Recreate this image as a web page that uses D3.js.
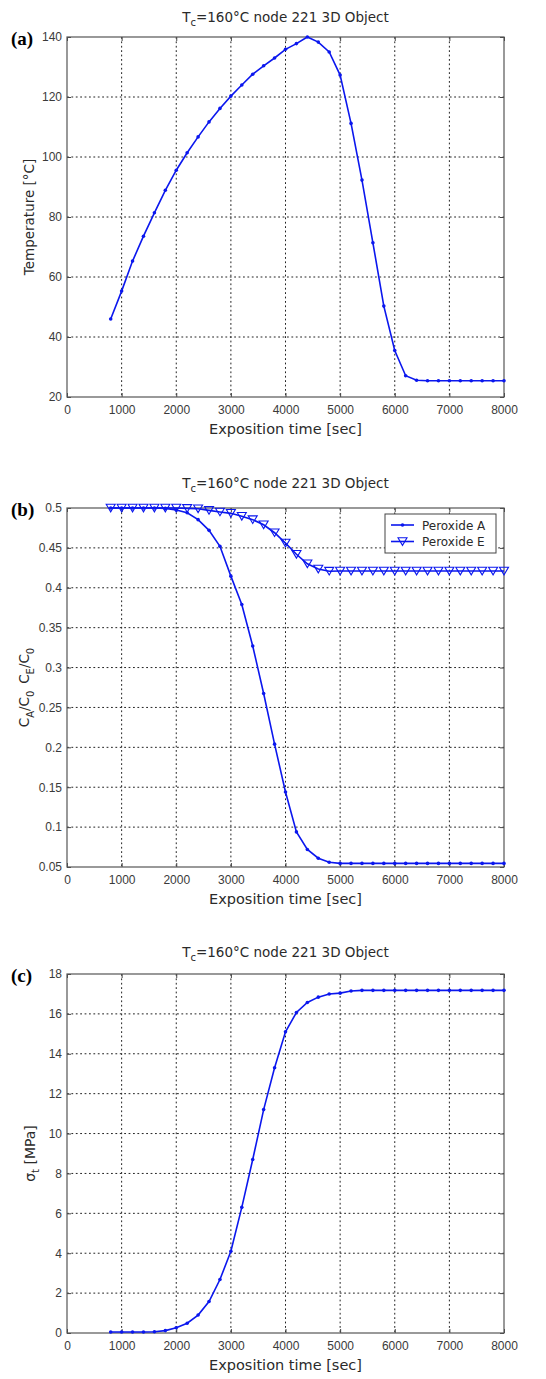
<!DOCTYPE html>
<html>
<head>
<meta charset="utf-8">
<script src="https://cdn.jsdelivr.net/npm/d3@7"></script>
<style>
  body { margin: 0; background: #fff; }
  svg { display: block; }
</style>
</head>
<body>
<div id="chart"></div>
<script>
// Simulation output for node 221, sampled every 200 s
const expositionTime = [
  800, 1000, 1200, 1400, 1600, 1800, 2000, 2200, 2400, 2600, 2800, 3000,
  3200, 3400, 3600, 3800, 4000, 4200, 4400, 4600, 4800, 5000, 5200, 5400,
  5600, 5800, 6000, 6200, 6400, 6600, 6800, 7000, 7200, 7400, 7600, 7800, 8000
];
// (a) temperature [°C]
const temperature = [
  46.0, 55.3, 65.3, 73.6, 81.4, 88.9, 95.6, 101.4, 106.7, 111.7, 116.2, 120.3,
  124.0, 127.6, 130.4, 133.0, 135.9, 137.8, 140.0, 138.3, 135.0, 127.3, 111.2, 92.3,
  71.4, 50.3, 35.5, 27.1, 25.6, 25.4, 25.4, 25.4, 25.4, 25.4, 25.4, 25.4, 25.4
];
// (b) relative peroxide concentrations
const peroxideA = [
  0.5, 0.5, 0.5, 0.5, 0.5, 0.4995, 0.4975, 0.494, 0.4854, 0.472, 0.452, 0.4146,
  0.379, 0.327, 0.2675, 0.204, 0.144, 0.094, 0.072, 0.061, 0.056, 0.0545, 0.0545, 0.0545,
  0.0545, 0.0545, 0.0545, 0.0545, 0.0545, 0.0545, 0.0545, 0.0545, 0.0545, 0.0545, 0.0545, 0.0545, 0.0545
];
const peroxideE = [
  0.5, 0.5, 0.5, 0.5, 0.5, 0.5, 0.5, 0.4995, 0.499, 0.497, 0.495, 0.4933,
  0.4896, 0.4854, 0.479, 0.469, 0.456, 0.442, 0.430, 0.4235, 0.4208, 0.421, 0.421, 0.421,
  0.421, 0.421, 0.421, 0.421, 0.421, 0.421, 0.421, 0.421, 0.421, 0.421, 0.421, 0.421, 0.421
];
// (c) tensile stress [MPa]
const tensileStress = [
  0.05, 0.05, 0.05, 0.05, 0.06, 0.12, 0.26, 0.49, 0.9, 1.58, 2.68, 4.1,
  6.3, 8.7, 11.2, 13.3, 15.1, 16.07, 16.57, 16.84, 17.0, 17.04, 17.15, 17.18,
  17.18, 17.18, 17.18, 17.18, 17.18, 17.18, 17.18, 17.18, 17.18, 17.18, 17.18, 17.18, 17.18
];

const timeTicks = [0, 1000, 2000, 3000, 4000, 5000, 6000, 7000, 8000];
const temperatureTicks = [20, 40, 60, 80, 100, 120, 140];
const concentrationTicks = [0.05, 0.1, 0.15, 0.2, 0.25, 0.3, 0.35, 0.4, 0.45, 0.5];
const stressTicks = [0, 2, 4, 6, 8, 10, 12, 14, 16, 18];
const panelLabels = ["(a)", "(b)", "(c)"];
const legendLabels = ["Peroxide A", "Peroxide E"];
const xAxisLabel = "Exposition time [sec]";

const W = 546, H = 1379;
const plotLeft = 67, plotRight = 504;
const blue = "#0b17ee";
const sans = "'Liberation Sans', Arial, sans-serif";
const wide = "'DejaVu Sans', sans-serif";

const svg = d3.select("#chart").append("svg")
  .attr("width", W).attr("height", H)
  .attr("viewBox", `0 0 ${W} ${H}`);

const x = d3.scaleLinear().domain([0, 8000]).range([plotLeft, plotRight]);

const panels = [
  { top: 37, bottom: 397, titleY: 22, ticks: temperatureTicks, domain: [20, 140],
    fmt: d3.format("d") },
  { top: 508, bottom: 867, titleY: 488, ticks: concentrationTicks, domain: [0.05, 0.5],
    fmt: d3.format("~g") },
  { top: 974, bottom: 1333, titleY: 957, ticks: stressTicks, domain: [0, 18],
    fmt: d3.format("d") }
];

function drawFrame(p, i) {
  const y = d3.scaleLinear().domain(p.domain).range([p.bottom, p.top]);
  const g = svg.append("g");

  // dotted grid
  g.selectAll(".vgrid").data(timeTicks.slice(1, -1)).join("line")
    .attr("x1", d => x(d)).attr("x2", d => x(d))
    .attr("y1", p.top).attr("y2", p.bottom)
    .attr("stroke", "#222").attr("stroke-width", 1)
    .attr("stroke-dasharray", "1.8,2.6");
  g.selectAll(".hgrid").data(p.ticks.slice(1, -1)).join("line")
    .attr("y1", d => y(d)).attr("y2", d => y(d))
    .attr("x1", plotLeft).attr("x2", plotRight)
    .attr("stroke", "#222").attr("stroke-width", 1)
    .attr("stroke-dasharray", "1.8,2.6");

  // axes with inward ticks
  const styleAxis = sel => {
    sel.select(".domain").remove();
    sel.selectAll(".tick line").attr("stroke", "#444");
    sel.selectAll(".tick text").attr("fill", "#3a3a3a")
      .style("font-family", sans).style("font-size", "12px");
  };
  g.append("g").attr("transform", `translate(0,${p.bottom})`)
    .call(d3.axisBottom(x).tickValues(timeTicks).tickFormat(d3.format("d"))
      .tickSize(-4).tickPadding(8))
    .call(styleAxis);
  g.append("g").attr("transform", `translate(0,${p.top})`)
    .call(d3.axisTop(x).tickValues(timeTicks).tickFormat("").tickSize(-4))
    .call(styleAxis);
  g.append("g").attr("transform", `translate(${plotLeft},0)`)
    .call(d3.axisLeft(y).tickValues(p.ticks).tickFormat(p.fmt)
      .tickSize(-4).tickPadding(5))
    .call(styleAxis);
  g.append("g").attr("transform", `translate(${plotRight},0)`)
    .call(d3.axisRight(y).tickValues(p.ticks).tickFormat("").tickSize(-4))
    .call(styleAxis);

  // plot box
  g.append("rect")
    .attr("x", plotLeft).attr("y", p.top)
    .attr("width", plotRight - plotLeft).attr("height", p.bottom - p.top)
    .attr("fill", "none").attr("stroke", "#555").attr("stroke-width", 1.2);

  // title T_c=160°C node 221 3D Object
  const t = g.append("text")
    .attr("x", (plotLeft + plotRight) / 2).attr("y", p.titleY)
    .attr("text-anchor", "middle").attr("fill", "#2a2a2a")
    .style("font-family", wide).style("font-size", "13.5px");
  t.append("tspan").text("T");
  t.append("tspan").attr("dy", 4).style("font-size", "10px").text("c");
  t.append("tspan").attr("dy", -4).text("=160°C node 221 3D Object");

  // x axis label
  g.append("text")
    .attr("x", (plotLeft + plotRight) / 2).attr("y", p.bottom + 37)
    .attr("text-anchor", "middle").attr("fill", "#2a2a2a")
    .style("font-family", wide).style("font-size", "14.5px")
    .text(xAxisLabel);

  // panel letter
  g.append("text")
    .attr("x", 11).attr("y", p.top + 7.5)
    .attr("fill", "#000")
    .style("font-family", "'Liberation Serif', 'Times New Roman', serif")
    .style("font-size", "19px").style("font-weight", "bold")
    .text(panelLabels[i]);

  return { g, y };
}

const lineOf = (y, values) => d3.line()
  .x((d, k) => x(expositionTime[k]))
  .y(d => y(d))(values);

function drawDots(g, y, values) {
  g.append("path").attr("d", lineOf(y, values))
    .attr("fill", "none").attr("stroke", blue).attr("stroke-width", 1.6);
  g.selectAll(null).data(values).join("circle")
    .attr("cx", (d, k) => x(expositionTime[k])).attr("cy", d => y(d))
    .attr("r", 1.8).attr("fill", blue);
}

const triPath = (cx, cy) =>
  `M${cx - 4.5},${cy - 3.8}L${cx + 4.5},${cy - 3.8}L${cx},${cy + 3.8}Z`;

function drawTriangles(g, y, values) {
  g.append("path").attr("d", lineOf(y, values))
    .attr("fill", "none").attr("stroke", blue).attr("stroke-width", 1.6);
  g.selectAll(null).data(values).join("path")
    .attr("d", (d, k) => triPath(x(expositionTime[k]), y(d)))
    .attr("fill", "none").attr("stroke", blue).attr("stroke-width", 1.1);
}

// (a) temperature
{
  const p = panels[0];
  const { g, y } = drawFrame(p, 0);
  drawDots(g, y, temperature);
  g.append("text")
    .attr("transform", `translate(34,${(p.top + p.bottom) / 2}) rotate(-90)`)
    .attr("text-anchor", "middle").attr("fill", "#2a2a2a")
    .style("font-family", wide).style("font-size", "13.5px")
    .text("Temperature [°C]");
}

// (b) peroxide concentrations
{
  const p = panels[1];
  const { g, y } = drawFrame(p, 1);
  drawTriangles(g, y, peroxideE);
  drawDots(g, y, peroxideA);

  const yl = g.append("text")
    .attr("transform", `translate(29,${(p.top + p.bottom) / 2}) rotate(-90)`)
    .attr("text-anchor", "middle").attr("fill", "#2a2a2a")
    .style("font-family", wide).style("font-size", "13.5px");
  const parts = [["C", 0], ["A", 1], ["/C", 0], ["0", 1], ["\u2002C", 0], ["E", 1], ["/C", 0], ["0", 1]];
  let level = 0;
  parts.forEach(([s, sub]) => {
    const ts = yl.append("tspan").text(s);
    if (sub && !level) { ts.attr("dy", 5).style("font-size", "10px"); level = 1; }
    else if (!sub && level) { ts.attr("dy", -5); level = 0; }
    else if (sub) ts.style("font-size", "10px");
  });

  // legend
  const lx = 385, ly = 514, lw = 111, lh = 39;
  const lg = g.append("g");
  lg.append("rect").attr("x", lx).attr("y", ly).attr("width", lw).attr("height", lh)
    .attr("fill", "#fff").attr("stroke", "#444").attr("stroke-width", 1);
  legendLabels.forEach((name, k) => {
    const cy = ly + 11 + k * 16.5;
    lg.append("line").attr("x1", lx + 6).attr("x2", lx + 29).attr("y1", cy).attr("y2", cy)
      .attr("stroke", blue).attr("stroke-width", 1.6);
    if (k === 0) {
      lg.append("circle").attr("cx", lx + 17.5).attr("cy", cy).attr("r", 1.8).attr("fill", blue);
    } else {
      lg.append("path").attr("d", triPath(lx + 17.5, cy))
        .attr("fill", "none").attr("stroke", blue).attr("stroke-width", 1.1);
    }
    lg.append("text").attr("x", lx + 37).attr("y", cy + 4.5)
      .attr("fill", "#2a2a2a")
      .style("font-family", wide).style("font-size", "12px")
      .text(name);
  });
}

// (c) tensile stress
{
  const p = panels[2];
  const { g, y } = drawFrame(p, 2);
  drawDots(g, y, tensileStress);
  const yl = g.append("text")
    .attr("transform", `translate(35,${(p.top + p.bottom) / 2}) rotate(-90)`)
    .attr("text-anchor", "middle").attr("fill", "#2a2a2a")
    .style("font-family", wide).style("font-size", "14px");
  yl.append("tspan").text("\u03c3");
  yl.append("tspan").attr("dy", 4).style("font-size", "10px").text("t");
  yl.append("tspan").attr("dy", -4).text(" [MPa]");
}
</script>
</body>
</html>
